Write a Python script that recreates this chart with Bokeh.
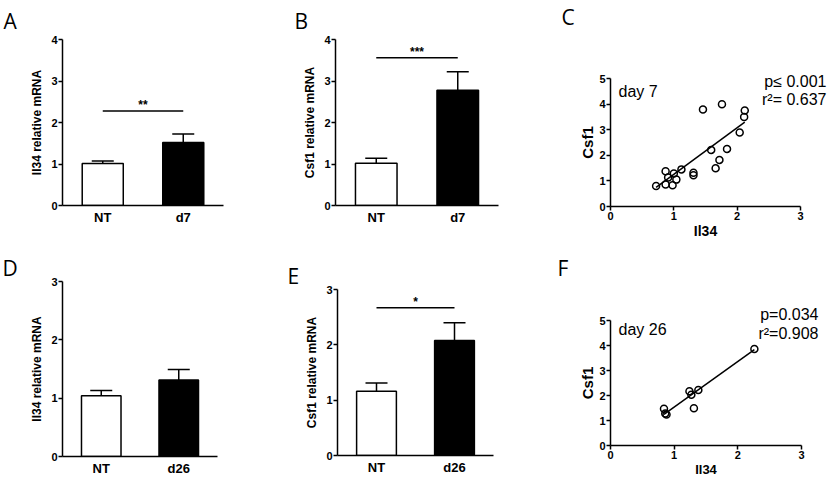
from bokeh.plotting import figure
from bokeh.models import (Range1d, FactorRange, Whisker, TeeHead, ColumnDataSource,
                          Label, FixedTicker, LinearAxis)
from bokeh.layouts import row, column
from bokeh.embed import file_html
from bokeh.resources import INLINE

# ---------------- data ----------------
A_cats = ["NT", "d7"]
A_vals = [1.01, 1.52]
A_errs = [0.06, 0.20]
A_sig = 2.28
A_stars = "**"
A_yticks = [0, 1, 2, 3, 4]

B_cats = ["NT", "d7"]
B_vals = [1.02, 2.78]
B_errs = [0.12, 0.44]
B_sig = 3.56
B_stars = "***"
B_yticks = [0, 1, 2, 3, 4]

D_cats = ["NT", "d26"]
D_vals = [1.04, 1.31]
D_errs = [0.09, 0.18]
D_yticks = [0, 1, 2, 3]

E_cats = ["NT", "d26"]
E_vals = [1.16, 2.08]
E_errs = [0.15, 0.32]
E_sig = 2.67
E_stars = "*"
E_yticks = [0, 1, 2, 3]

C_il34 = [0.72, 0.87, 0.87, 0.91, 1.00, 1.04, 0.98, 1.12, 1.31, 1.31,
          1.46, 1.59, 1.66, 1.72, 1.76, 1.84, 2.04, 2.11, 2.12]
C_csf1 = [0.80, 1.38, 0.86, 1.13, 1.29, 1.05, 0.83, 1.45, 1.32, 1.22,
          3.79, 2.21, 1.49, 1.82, 3.99, 2.25, 2.89, 3.50, 3.75]
C_slope, C_intercept = 1.82, -0.56
C_stats = ["p\u2264 0.001", "r\u00b2= 0.637"]
C_day = "day 7"

F_il34 = [0.84, 0.86, 0.88, 1.24, 1.27, 1.38, 1.31, 2.26]
F_csf1 = [1.47, 1.28, 1.24, 2.17, 2.03, 2.22, 1.49, 3.86]
F_slope, F_intercept = 1.82, -0.28
F_stats = ["p=0.034", "r\u00b2=0.908"]
F_day = "day 26"

SC_xticks = [0, 1, 2, 3]
SC_yticks = [0, 1, 2, 3, 4, 5]
SC_xlabel = "Il34"
SC_ylabel = "Csf1"

BOLD = "Liberation Sans"
NARROW = "Liberation Sans Narrow, Liberation Sans"
LETTER_FONT = "Open Sans"


def style_axis(ax):
    ax.axis_line_width = 1.5
    ax.axis_line_color = "black"
    ax.major_tick_line_width = 1.5
    ax.major_tick_line_color = "black"
    ax.major_tick_out = 4
    ax.major_tick_in = 0
    ax.minor_tick_line_color = None
    ax.major_label_text_font = BOLD
    ax.major_label_text_font_style = "bold"
    ax.major_label_text_font_size = "11px"
    ax.major_label_text_color = "black"
    ax.major_label_standoff = 1
    ax.axis_label_text_font_style = "bold"
    ax.axis_label_text_color = "black"


def base_fig(g, x_range, y_range):
    p = figure(x_range=x_range, y_range=y_range,
               frame_width=g["fw"], frame_height=g["fh"],
               min_border_left=g["left"], min_border_right=g["right"],
               min_border_top=g["top"], min_border_bottom=g["bottom"],
               output_backend="svg", toolbar_location=None,
               background_fill_color="white", border_fill_color="white",
               outline_line_color=None, frame_align=False)
    p.xgrid.visible = False
    p.ygrid.visible = False
    style_axis(p.xaxis[0])
    style_axis(p.yaxis[0])
    return p


def set_letter(p, g, letter):
    p.title.text = letter
    p.title.align = "left"
    p.title.offset = g["letter_dx"]
    p.title.standoff = g["letter_standoff"]
    p.title.text_font = LETTER_FONT
    p.title.text_font_style = "normal"
    p.title.text_font_size = "21px"
    p.title.text_color = "black"


def bar_panel(g, cats, vals, errs, yticks, ylabel, ylabel_font, letter,
              sig=None, stars=None):
    p = base_fig(g, FactorRange(factors=cats, range_padding=0),
                 Range1d(yticks[0], yticks[-1]))
    src = ColumnDataSource(dict(x=cats, top=vals,
                                upper=[v + e for v, e in zip(vals, errs)],
                                fill=["white", "black"]))
    p.vbar(x="x", top="top", width=0.51, source=src, fill_color="fill",
           line_color="black", line_width=1.5)
    p.add_layout(Whisker(source=src, base="x", lower="top", upper="upper",
                         dimension="height", line_width=1.5, line_color="black",
                         upper_head=TeeHead(size=22, line_width=1.5, line_color="black"),
                         lower_head=None))
    p.yaxis.ticker = FixedTicker(ticks=yticks)
    p.yaxis.axis_label = ylabel
    p.yaxis.axis_label_text_font = ylabel_font
    p.yaxis.axis_label_text_font_size = "12px"
    p.yaxis.axis_label_standoff = 4
    p.xaxis.major_tick_line_color = None
    p.xaxis.major_tick_out = 0
    p.xaxis.major_label_text_font_size = "13px"
    p.xaxis.major_label_standoff = 4
    if sig is not None:
        p.segment(x0=[cats[0]], y0=[sig], x1=[cats[1]], y1=[sig],
                  line_width=1.5, line_color="black")
        p.add_layout(Label(x=len(cats) / 2, y=sig, text=stars, text_align="center",
                           text_baseline="bottom", y_offset=-1,
                           text_font=BOLD, text_font_style="bold",
                           text_font_size="12px", text_color="black"))
    set_letter(p, g, letter)
    return p


def scatter_panel(g, xs, ys, slope, intercept, stats, day, letter, stats_px, day_px):
    # the axes occupy the pixel box g["ax"]; the frame extends beyond it to hold texts
    ax_l, ax_r, ax_t, ax_b = g["ax"]
    fl = g["x0"] + g["left"]
    fr = fl + g["fw"]
    ft = g["y0"] + g["top"]
    fb = ft + g["fh"]
    x0, x1 = SC_xticks[0], SC_xticks[-1]
    y0, y1 = SC_yticks[0], SC_yticks[-1]
    xu = (x1 - x0) / (ax_r - ax_l)
    yu = (y1 - y0) / (ax_b - ax_t)
    xr = Range1d(x0 - (ax_l - fl) * xu, x1 + (fr - ax_r) * xu)
    yr = Range1d(y0 - (fb - ax_b) * yu, y1 + (ax_t - ft) * yu)
    p = base_fig(g, xr, yr)
    p.xaxis.ticker = FixedTicker(ticks=SC_xticks)
    p.yaxis.ticker = FixedTicker(ticks=SC_yticks)
    p.xaxis.bounds = (x0, x1)
    p.yaxis.bounds = (y0, y1)

    # axis titles, centred on the axes' bounds (not on the enlarged frame)
    xmid, ymid = (x0 + x1) / 2, (y0 + y1) / 2
    xt = LinearAxis(ticker=FixedTicker(ticks=[xmid]),
                    major_label_overrides={xmid: SC_xlabel},
                    axis_line_color=None, major_tick_line_color=None,
                    minor_tick_line_color=None, major_tick_out=0, major_tick_in=0,
                    major_label_standoff=0, major_label_text_font=BOLD,
                    major_label_text_font_style="bold",
                    major_label_text_font_size=g["xlabel_size"],
                    major_label_text_color="black")
    yt = LinearAxis(ticker=FixedTicker(ticks=[ymid]),
                    major_label_overrides={ymid: SC_ylabel},
                    major_label_orientation="parallel",
                    axis_line_color=None, major_tick_line_color=None,
                    minor_tick_line_color=None, major_tick_out=0, major_tick_in=0,
                    major_label_standoff=1, major_label_text_font=BOLD,
                    major_label_text_font_style="bold", major_label_text_font_size="15px",
                    major_label_text_color="black")
    p.add_layout(xt, "below")
    p.add_layout(yt, "left")

    xmin, xmax = min(xs), max(xs)
    p.line(x=[xmin, xmax], y=[slope * xmin + intercept, slope * xmax + intercept],
           line_color="black", line_width=1.5)
    p.scatter(x=xs, y=ys, marker="circle", size=7, fill_color=None,
              line_color="black", line_width=1.5)

    def data_xy(px, py):
        return xr.start + (px - fl) * xu, yr.end - (py - ft) * yu

    for i, t in enumerate(stats):
        x, y = data_xy(*stats_px[i])
        p.add_layout(Label(x=x, y=y, text=t, text_align="right", text_baseline="middle",
                           text_font=NARROW, text_font_size="16px", text_color="black"))
    x, y = data_xy(*day_px)
    p.add_layout(Label(x=x, y=y, text=day, text_align="left", text_baseline="middle",
                       text_font=NARROW, text_font_size="16px", text_color="black"))
    set_letter(p, g, letter)
    return p


TOP, BOT = 0, 238
gA = dict(x0=0, y0=TOP, left=62, fw=161, right=47, top=37, fh=166, bottom=35,
          letter_dx=-59, letter_standoff=9)
gB = dict(x0=270, y0=TOP, left=65, fw=163, right=32, top=37, fh=166, bottom=35,
          letter_dx=-41, letter_standoff=9)
gC = dict(x0=530, y0=TOP, left=80, fw=217, right=0, top=30, fh=176, bottom=32,
          ax=(610, 800, 78, 206), letter_dx=-49, letter_standoff=0, xlabel_size="14px")
gD = dict(x0=0, y0=BOT, left=62, fw=155, right=53, top=40, fh=175, bottom=23,
          letter_dx=-60, letter_standoff=0)
gE = dict(x0=270, y0=BOT, left=67, fw=156, right=37, top=48, fh=166, bottom=24,
          letter_dx=-50, letter_standoff=0)
gF = dict(x0=530, y0=BOT, left=80, fw=217, right=0, top=40, fh=164, bottom=34,
          ax=(610, 801, 317, 442), letter_dx=-53, letter_standoff=0, xlabel_size="13px")

pA = bar_panel(gA, A_cats, A_vals, A_errs, A_yticks, "Il34 relative mRNA", NARROW,
               "A", A_sig, A_stars)
pB = bar_panel(gB, B_cats, B_vals, B_errs, B_yticks, "Csf1 relative mRNA", BOLD,
               "B", B_sig, B_stars)
pC = scatter_panel(gC, C_il34, C_csf1, C_slope, C_intercept, C_stats, C_day,
                   "C", [(826, 81), (826, 99)], (618, 91))
pD = bar_panel(gD, D_cats, D_vals, D_errs, D_yticks, "Il34 relative mRNA", NARROW, "D")
pE = bar_panel(gE, E_cats, E_vals, E_errs, E_yticks, "Csf1 relative mRNA", BOLD,
               "E", E_sig, E_stars)
pF = scatter_panel(gF, F_il34, F_csf1, F_slope, F_intercept, F_stats, F_day,
                   "F", [(818, 311), (818, 330)], (618, 326))

layout = column(row(pA, pB, pC, spacing=0), row(pD, pE, pF, spacing=0), spacing=0)
open("out.html", "w").write(file_html(layout, INLINE))
